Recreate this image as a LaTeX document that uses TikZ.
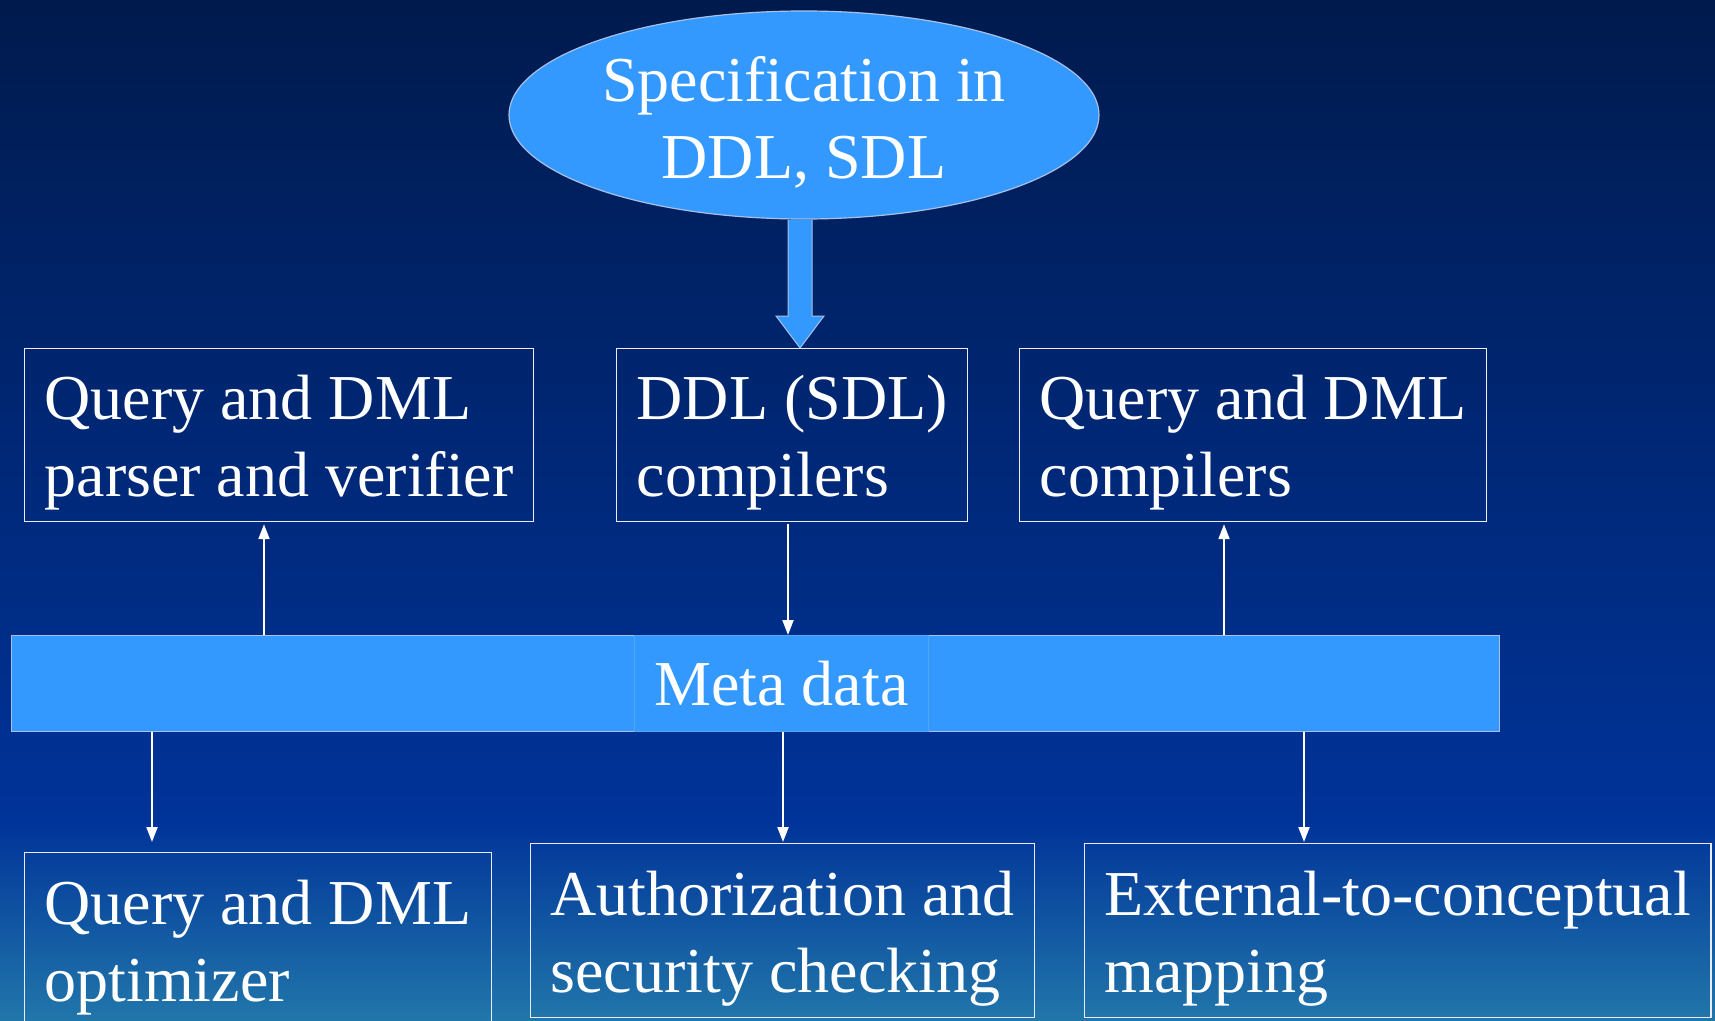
\documentclass[tikz,border=0pt]{standalone}
\usepackage{fontspec}
\setmainfont{Liberation Serif}
\usetikzlibrary{shapes.geometric,arrows.meta,calc}
\definecolor{bgtop}{HTML}{001A4D}
\definecolor{bgmid}{HTML}{003399}
\definecolor{bgbot}{HTML}{2176AA}
\definecolor{fillblue}{HTML}{3399FF}
\definecolor{edgeblue}{HTML}{A8C0E8}
\definecolor{inneredge}{HTML}{4FA8F0}
\begin{document}
\begin{tikzpicture}[x=1pt,y=-1pt,
  txt/.style={font=\fontsize{64pt}{77pt}\selectfont, text=white},
  box/.style={txt, draw=white!92!blue, line width=1.2pt, align=left, anchor=north west,
              inner xsep=20pt, inner ysep=0pt, minimum height=173pt},
  spec/.style={txt, ellipse, fill=fillblue, draw=edgeblue, line width=1.2pt,
               align=center, inner sep=0pt, minimum width=590pt, minimum height=208pt},
  bar/.style={fill=fillblue, draw=edgeblue, line width=1.2pt, anchor=north west,
              inner sep=0pt, minimum height=96pt},
  metabox/.style={txt, draw=inneredge, line width=0.8pt, anchor=north west,
              inner sep=0pt, minimum height=96pt},
  conn/.style={draw=white, line width=2pt, -{Triangle[length=15pt,width=11pt]}},
  bigarrow/.style={fill=fillblue, draw=edgeblue, line width=1pt, line join=miter}
]
\useasboundingbox (0,0) rectangle (1715,1020);
\clip (0,0) rectangle (1715,1020);
\shade[top color=bgtop, bottom color=bgmid] (0,0) rectangle (1715,821);
\shade[top color=bgmid, bottom color=bgbot] (0,820) rectangle (1715,1020);

% top ellipse
\node[spec] (spec) at (804,115) {\rule{0pt}{60pt}Specification in\\DDL, SDL};

% top row boxes
\node[box, minimum width=508pt] (qa) at (24,348) {\rule{0pt}{60pt}Query and DML\\parser and verifier};
\node[box, minimum width=350pt] (ddl) at (616,348) {\rule{0pt}{60pt}DDL (SDL)\\compilers};
\node[box, minimum width=466pt] (qc) at (1019,348) {\rule{0pt}{60pt}Query and DML\\compilers};

% meta data bar
\node[bar, minimum width=1488pt] (bar) at (11,635) {};
\node[metabox, minimum width=294pt] (meta) at (634,635) {Meta data};

% bottom row boxes
\node[box, minimum width=466pt, minimum height=174pt] (qo) at (24,852) {\rule{0pt}{60pt}Query and DML\\optimizer};
\node[box, minimum width=504pt, minimum height=174pt] (auth) at (530,843) {\rule{0pt}{60pt}Authorization and\\security checking};
\node[box, minimum width=625pt, minimum height=174pt] (ext) at (1084,843) {\rule{0pt}{60pt}External-to-conceptual\\mapping};

% big arrow from spec to DDL compilers
\coordinate (ax) at (800,0);
\draw[bigarrow] ($(spec.south -| ax)+(-12,0)$) -- ($(ddl.north -| ax)+(-12,-32)$)
  -- ($(ddl.north -| ax)+(-24,-32)$) -- (ddl.north -| ax)
  -- ($(ddl.north -| ax)+(24,-32)$) -- ($(ddl.north -| ax)+(12,-32)$)
  -- ($(spec.south -| ax)+(12,0)$);

% connector x positions
\coordinate (x1) at (264,0);
\coordinate (x2) at (788,0);
\coordinate (x3) at (1224,0);
\coordinate (x4) at (152,0);
\coordinate (x5) at (783,0);
\coordinate (x6) at (1304,0);

\draw[conn, shorten >=2pt] (bar.north -| x1) -- (qa.south -| x1);
\draw[conn, shorten <=2pt] (ddl.south -| x2) -- (bar.north -| x2);
\draw[conn, shorten >=2pt] (bar.north -| x3) -- (qc.south -| x3);
\draw[conn, shorten >=10pt] (bar.south -| x4) -- (qo.north -| x4);
\draw[conn, shorten >=1pt] (bar.south -| x5) -- (auth.north -| x5);
\draw[conn, shorten >=1pt] (bar.south -| x6) -- (ext.north -| x6);
\end{tikzpicture}
\end{document}
